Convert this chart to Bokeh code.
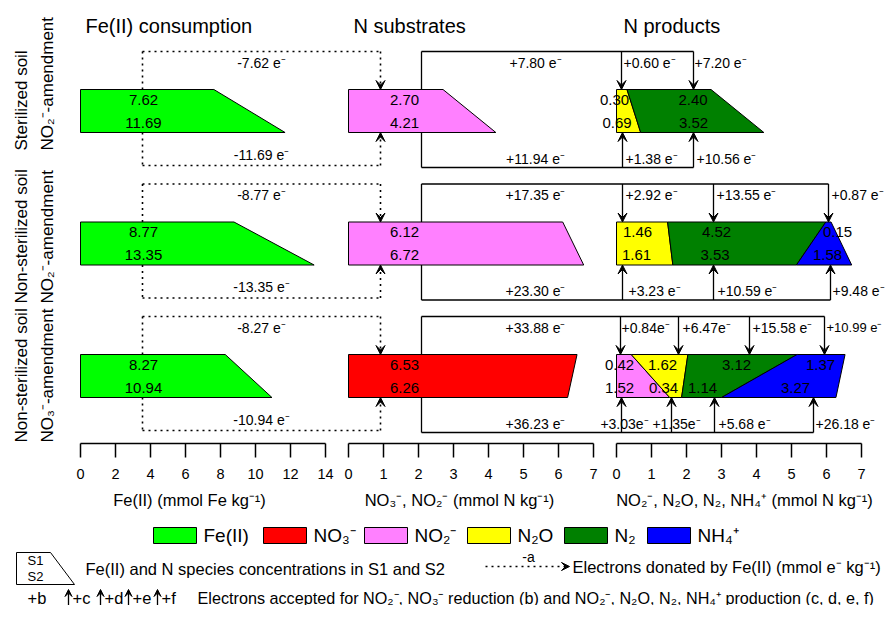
import math
from bokeh.plotting import figure
from bokeh.models import Range1d, ColumnDataSource, Arrow, VeeHead
from bokeh.core.properties import value
from bokeh.embed import file_html
from bokeh.resources import INLINE

# ---------------- data ----------------
row_line1 = ["Sterilized soil", "Non-sterilized soil", "Non-sterilized soil"]
row_line2 = ["NO₂⁻-amendment", "NO₂⁻-amendment", "NO₃⁻-amendment"]

fe_s1 = [7.62, 8.77, 8.27]
fe_s2 = [11.69, 13.35, 10.94]

sub_species = ["NO2", "NO2", "NO3"]
sub_s1 = [2.70, 6.12, 6.53]
sub_s2 = [4.21, 6.72, 6.26]

prod1_species = ["N2O", "N2"]
prod1_s1 = [0.30, 2.40]
prod1_s2 = [0.69, 3.52]
prod2_species = ["N2O", "N2", "NH4"]
prod2_s1 = [1.46, 4.52, 0.15]
prod2_s2 = [1.61, 3.53, 1.58]
prod3_species = ["NO2", "N2O", "N2", "NH4"]
prod3_s1 = [0.42, 1.62, 3.12, 1.37]
prod3_s2 = [1.52, 0.34, 1.14, 3.27]

e_don_s1 = [7.62, 8.77, 8.27]
e_don_s2 = [11.69, 13.35, 10.94]
e_b_s1 = [7.80, 17.35, 33.88]
e_b_s2 = [11.94, 23.30, 36.23]
e_prod1_s1 = [0.60, 7.20]
e_prod1_s2 = [1.38, 10.56]
e_prod2_s1 = [2.92, 13.55, 0.87]
e_prod2_s2 = [3.23, 10.59, 9.48]
e_prod3_s1 = [0.84, 6.47, 15.58, 10.99]
e_prod3_s2 = [3.03, 1.35, 5.68, 26.18]

fe_ticks = [0, 2, 4, 6, 8, 10, 12, 14]
n_ticks = [0, 1, 2, 3, 4, 5, 6, 7]

species_color = {"Fe": "#00ff00", "NO3": "#ff0000", "NO2": "#ff80ff",
                 "N2O": "#ffff00", "N2": "#008000", "NH4": "#0000ff"}
species_label = {"Fe": "Fe(II)", "NO3": "NO₃⁻", "NO2": "NO₂⁻",
                 "N2O": "N₂O", "N2": "N₂", "NH4": "NH₄⁺"}
legend_order = ["Fe", "NO3", "NO2", "N2O", "N2", "NH4"]

# ---------------- layout ----------------
FONT = "Liberation Sans"
W, H = 885, 605
UNIT = 35.0          # pixels per mmol N kg-1
X0 = 80.0


def px(xr):
    return (xr - X0) / UNIT


P_FE, P_SUB, P_PROD = px(80), px(348), px(616)
FE_W = 0.5
ROW_TOP = [89, 221.5, 354]
BAR_H = 43
ROW_LABEL_BOTTOM = [150, 303, 442]

DOT_XA, DOT_XB = px(142), px(380)
SOLID_XL = px(421)
B_LABEL_X = px(535)
FE_LABEL_X = px(143)
SUB_LABEL_X = px(404)

arr_top = [[621, 693], [622, 713, 828], [620, 678, 749, 824]]
arr_bot = [[622, 693], [622, 713, 830], [621, 671, 714, 813]]
elab_top = [[623, 694], [625, 716, 831], [621, 682, 752, 826]]
elab_bot = [[625, 696], [628, 717, 832], [624, 676, 718, 815]]
elab_top_size = [[14, 14], [14, 14, 14], [14, 14, 14, 13]]
elab_top_align = [["left"] * 2, ["left"] * 3, ["left"] * 4]
elab_bot_align = [["left"] * 2, ["left"] * 3, ["center", "center", "left", "left"]]
elab_top_space = [[True] * 2, [True] * 3, [False, False, True, True]]
elab_bot_space = [[True] * 2, [True] * 3, [False, False, True, True]]
vlab_top = [[614, 692.5], [637, 716, 837], [619, 662, 736, 820]]
vlab_bot = [[616.5, 693], [636, 714.5, 827], [619, 663, 702, 795]]

prod_species = [prod1_species, prod2_species, prod3_species]
prod_s1 = [prod1_s1, prod2_s1, prod3_s1]
prod_s2 = [prod1_s2, prod2_s2, prod3_s2]
e_prod_s1 = [e_prod1_s1, e_prod2_s1, e_prod3_s1]
e_prod_s2 = [e_prod1_s2, e_prod2_s2, e_prod3_s2]

p = figure(width=W, height=H, x_range=Range1d(px(0), px(W)),
           y_range=Range1d(H, 0), output_backend="svg",
           toolbar_location=None, min_border=0,
           x_axis_location=None, y_axis_location=None)
p.grid.visible = False
p.outline_line_color = None
p.background_fill_color = "white"


def txt(x, y, s, size=15, align="center", baseline="middle", angle=0.0):
    p.text(x=[x], y=[y], text=[s], text_font=value(FONT),
           text_font_size=value(f"{size}px"), text_align=align,
           text_baseline=baseline, angle=angle, text_color="black")


solid = dict(x0=[], y0=[], x1=[], y1=[])
dotted = dict(x0=[], y0=[], x1=[], y1=[])
solid_arr = dict(x0=[], y0=[], x1=[], y1=[])
dotted_arr = dict(x0=[], y0=[], x1=[], y1=[])
patch = dict(xs=[], ys=[], color=[])


def add(d, x0, y0, x1, y1):
    d["x0"].append(x0); d["y0"].append(y0); d["x1"].append(x1); d["y1"].append(y1)


def trap(origin, lt, rt, lb, rb, top, bot, color, w=1.0):
    patch["xs"].append([origin + lt * w, origin + rt * w, origin + rb * w, origin + lb * w])
    patch["ys"].append([top, top, bot, bot])
    patch["color"].append(color)


for r in range(3):
    top = ROW_TOP[r]
    bot = top + BAR_H
    # bars
    trap(P_FE, 0, fe_s1[r], 0, fe_s2[r], top, bot, species_color["Fe"], FE_W)
    trap(P_SUB, 0, sub_s1[r], 0, sub_s2[r], top, bot, species_color[sub_species[r]])
    t = b = 0.0
    for sp, a, c in zip(prod_species[r], prod_s1[r], prod_s2[r]):
        trap(P_PROD, t, t + a, b, b + c, top, bot, species_color[sp])
        t += a
        b += c
    # dotted connectors (electrons donated)
    yt, yb = top - 38, bot + 33
    add(dotted, DOT_XA, yt, DOT_XA, top)
    add(dotted, DOT_XA, yt, DOT_XB, yt)
    add(dotted_arr, DOT_XB, yt, DOT_XB, top)
    add(dotted, DOT_XA, bot, DOT_XA, yb)
    add(dotted, DOT_XA, yb, DOT_XB, yb)
    add(dotted_arr, DOT_XB, yb, DOT_XB, bot)
    mid = (DOT_XA + DOT_XB) / 2
    txt(mid, top - 27, f"-{e_don_s1[r]:.2f} e⁻", 14)
    txt(mid, bot + 22, f"-{e_don_s2[r]:.2f} e⁻", 14)
    # solid connectors (electrons accepted)
    st, sb = top - 38, bot + 35
    add(solid, SOLID_XL, top, SOLID_XL, st)
    add(solid, SOLID_XL, st, px(max(arr_top[r])), st)
    for ax in arr_top[r]:
        add(solid_arr, px(ax), st, px(ax), top)
    add(solid, SOLID_XL, bot, SOLID_XL, sb)
    add(solid, SOLID_XL, sb, px(max(arr_bot[r])), sb)
    for ax in arr_bot[r]:
        add(solid_arr, px(ax), sb, px(ax), bot)
    txt(B_LABEL_X, top - 27, f"+{e_b_s1[r]:.2f} e⁻", 14)
    txt(B_LABEL_X, bot + 26, f"+{e_b_s2[r]:.2f} e⁻", 14)
    for i, v in enumerate(e_prod_s1[r]):
        s = f"+{v:.2f}" + (" e⁻" if elab_top_space[r][i] else "e⁻")
        txt(px(elab_top[r][i]), top - 27, s, elab_top_size[r][i], elab_top_align[r][i])
    for i, v in enumerate(e_prod_s2[r]):
        s = f"+{v:.2f}" + (" e⁻" if elab_bot_space[r][i] else "e⁻")
        txt(px(elab_bot[r][i]), bot + 26, s, 14, elab_bot_align[r][i])

p.patches(xs="xs", ys="ys", fill_color="color", line_color="black", line_width=1,
          source=ColumnDataSource(patch))
p.segment(x0="x0", y0="y0", x1="x1", y1="y1", line_color="black", line_width=1.3,
          source=ColumnDataSource(solid))
p.segment(x0="x0", y0="y0", x1="x1", y1="y1", line_color="black", line_width=1.6,
          line_dash="2 4", source=ColumnDataSource(dotted))
p.add_layout(Arrow(end=VeeHead(size=9, fill_color="black", line_color="black"),
                   x_start="x0", y_start="y0", x_end="x1", y_end="y1",
                   line_color="black", line_width=1.3, source=ColumnDataSource(solid_arr)))
p.add_layout(Arrow(end=VeeHead(size=9, fill_color="black", line_color="black"),
                   x_start="x0", y_start="y0", x_end="x1", y_end="y1",
                   line_color="black", line_width=1.6, line_dash="2 4",
                   source=ColumnDataSource(dotted_arr)))

# labels inside the bars
for r in range(3):
    top = ROW_TOP[r]
    bot = top + BAR_H
    txt(FE_LABEL_X, top + 10, f"{fe_s1[r]:.2f}", 15)
    txt(FE_LABEL_X, bot - 10, f"{fe_s2[r]:.2f}", 15)
    txt(SUB_LABEL_X, top + 10, f"{sub_s1[r]:.2f}", 15)
    txt(SUB_LABEL_X, bot - 10, f"{sub_s2[r]:.2f}", 15)
    for i, v in enumerate(prod_s1[r]):
        txt(px(vlab_top[r][i]), top + 10, f"{v:.2f}", 15)
    for i, v in enumerate(prod_s2[r]):
        txt(px(vlab_bot[r][i]), bot - 10, f"{v:.2f}", 15)
    # row labels
    txt(px(21), ROW_LABEL_BOTTOM[r], row_line1[r], 17, "left", "middle", math.pi / 2)
    txt(px(47), ROW_LABEL_BOTTOM[r], row_line2[r], 17, "left", "middle", math.pi / 2)

# panel titles
txt(px(85), 25, "Fe(II) consumption", 20, "left")
txt(px(353), 25, "N substrates", 20, "left")
txt(px(623), 25, "N products", 20, "left")

# axes
AX_Y, TICK_LEN, TL_Y, TITLE_Y = 443, 14, 473, 499
axis_seg = dict(x0=[], y0=[], x1=[], y1=[])
panels = [(P_FE, fe_ticks, FE_W), (P_SUB, n_ticks, 1.0), (P_PROD, n_ticks, 1.0)]
for origin, ticks, w in panels:
    add(axis_seg, origin + ticks[0] * w, AX_Y, origin + ticks[-1] * w, AX_Y)
    for tk in ticks:
        add(axis_seg, origin + tk * w, AX_Y, origin + tk * w, AX_Y + TICK_LEN)
        txt(origin + tk * w, TL_Y, str(tk), 14.5)
p.segment(x0="x0", y0="y0", x1="x1", y1="y1", line_color="black", line_width=1.5,
          source=ColumnDataSource(axis_seg))
txt(px(189), TITLE_Y, "Fe(II) (mmol Fe kg⁻¹)", 16.5)
txt(px(459), TITLE_Y, "NO₃⁻, NO₂⁻ (mmol N kg⁻¹)", 16.5)
txt(px(744), TITLE_Y, "NO₂⁻, N₂O, N₂, NH₄⁺ (mmol N kg⁻¹)", 16.5)

# legend row 1: colour swatches
sw_left = [153, 263, 364, 467, 564, 647]
sw_w = 43
p.quad(left=[px(v) for v in sw_left], right=[px(v + sw_w) for v in sw_left],
       top=[527] * 6, bottom=[543] * 6,
       fill_color=[species_color[k] for k in legend_order], line_color="black", line_width=1)
for v, k in zip(sw_left, legend_order):
    txt(px(v + sw_w + 7), 535, species_label[k], 19, "left")

# legend row 2
p.patch(x=[px(16), px(50), px(74), px(16)], y=[552, 552, 584, 584],
        fill_color="white", line_color="black", line_width=1)
txt(px(27), 560, "S1", 13, "left")
txt(px(27), 576, "S2", 13, "left")
txt(px(85), 568, "Fe(II) and N species concentrations in S1 and S2", 16.5, "left")
p.add_layout(Arrow(end=VeeHead(size=8, fill_color="black", line_color="black"),
                   x_start=px(485), y_start=566, x_end=px(569), y_end=566,
                   line_color="black", line_width=1.6, line_dash="2 4"))
txt(px(528), 556, "-a", 14)
txt(px(572), 566, "Electrons donated by Fe(II) (mmol e⁻ kg⁻¹)", 16.5, "left")

# legend row 3
LR3 = 597
txt(px(27), LR3, "+b", 16.5, "left")
for ax, lab in zip([68, 100, 128, 157], ["+c", "+d", "+e", "+f"]):
    p.add_layout(Arrow(end=VeeHead(size=7, fill_color="black", line_color="black"),
                       x_start=px(ax), y_start=LR3 + 8, x_end=px(ax), y_end=LR3 - 8,
                       line_color="black", line_width=1.3))
    txt(px(ax + 4), LR3, lab, 16.5, "left")
txt(px(197), LR3,
    "Electrons accepted for NO₂⁻, NO₃⁻ reduction (b) and NO₂⁻, N₂O, N₂, NH₄⁺ production (c, d, e, f)",
    16.2, "left")

open("out.html", "w").write(file_html(p, INLINE))
